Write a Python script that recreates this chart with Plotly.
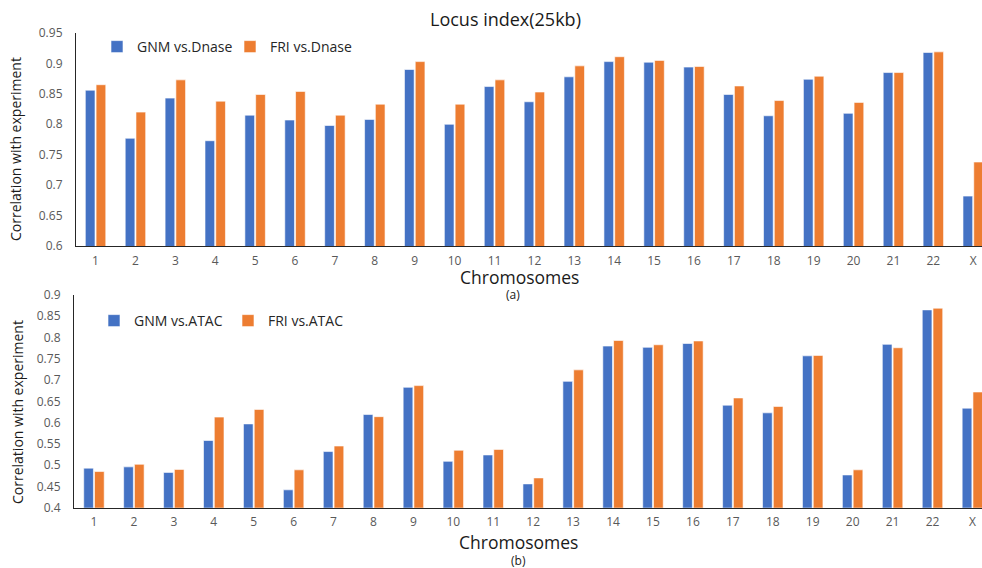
import plotly.graph_objects as go

chromosomes = [str(i) for i in range(1, 23)] + ["X"]

gnm_dnase = [0.856, 0.777, 0.843, 0.773, 0.815, 0.807, 0.798, 0.808, 0.890, 0.800, 0.862, 0.837,
             0.878, 0.903, 0.902, 0.894, 0.849, 0.814, 0.874, 0.818, 0.885, 0.918, 0.682]
fri_dnase = [0.865, 0.820, 0.873, 0.838, 0.849, 0.854, 0.815, 0.833, 0.903, 0.833, 0.873, 0.853,
             0.896, 0.911, 0.905, 0.895, 0.863, 0.839, 0.879, 0.836, 0.885, 0.919, 0.738]

gnm_atac = [0.493, 0.496, 0.483, 0.558, 0.597, 0.442, 0.532, 0.619, 0.683, 0.509, 0.524, 0.456,
            0.697, 0.780, 0.777, 0.786, 0.641, 0.623, 0.757, 0.477, 0.784, 0.865, 0.634]
fri_atac = [0.485, 0.502, 0.490, 0.613, 0.631, 0.489, 0.545, 0.614, 0.687, 0.535, 0.537, 0.470,
            0.724, 0.793, 0.783, 0.792, 0.658, 0.638, 0.758, 0.489, 0.776, 0.869, 0.672]

BLUE = "#4472C4"
ORANGE = "#ED7D31"
FONT = "Open Sans"
TICK_GRAY = "#595959"

fig = go.Figure()

bar_line = dict(color="white", width=0.6)
fig.add_trace(go.Bar(x=chromosomes, y=gnm_dnase, name="GNM vs.Dnase", marker=dict(color=BLUE, line=bar_line),
                     xaxis="x", yaxis="y", legend="legend"))
fig.add_trace(go.Bar(x=chromosomes, y=fri_dnase, name="FRI vs.Dnase", marker=dict(color=ORANGE, line=bar_line),
                     xaxis="x", yaxis="y", legend="legend"))
fig.add_trace(go.Bar(x=chromosomes, y=gnm_atac, name="GNM vs.ATAC", marker=dict(color=BLUE, line=bar_line),
                     xaxis="x2", yaxis="y2", legend="legend2"))
fig.add_trace(go.Bar(x=chromosomes, y=fri_atac, name="FRI vs.ATAC", marker=dict(color=ORANGE, line=bar_line),
                     xaxis="x2", yaxis="y2", legend="legend2"))

W, H = 982, 568

def px(x):
    return x / W

def py(y):
    return 1 - y / H

axis_common = dict(showgrid=False, zeroline=False, showline=True, linecolor="#262626", linewidth=1.2,
                   tickfont=dict(family=FONT, size=12, color=TICK_GRAY), ticks="", automargin=False)

fig.update_layout(
    template="none",
    width=W, height=H,
    margin=dict(l=0, r=0, t=0, b=0, pad=0),
    paper_bgcolor="white", plot_bgcolor="white",
    font=dict(family=FONT, color="#262626"),
    barmode="group", bargap=0.46, bargroupgap=0.1,
    xaxis=dict(domain=[px(76), 1], anchor="y", type="category", range=[-0.49, 22.22],
               ticklabelstandoff=3, **axis_common),
    yaxis=dict(domain=[py(246), py(33)], anchor="x", range=[0.6, 0.95], dtick=0.05,
               ticklabelstandoff=10, **axis_common),
    xaxis2=dict(domain=[px(74), 1], anchor="y2", type="category", range=[-0.5, 22.24],
                ticklabelstandoff=3, **axis_common),
    yaxis2=dict(domain=[py(507.7), py(295)], anchor="x2", range=[0.4, 0.9], dtick=0.05,
                ticklabelstandoff=10, **axis_common),
    legend=dict(orientation="h", x=px(97), y=py(47), xanchor="left", yanchor="middle",
                font=dict(family=FONT, size=14, color="#262626"), bgcolor="rgba(0,0,0,0)",
                entrywidth=88, entrywidthmode="pixels", itemwidth=30),
    legend2=dict(orientation="h", x=px(94), y=py(321), xanchor="left", yanchor="middle",
                 font=dict(family=FONT, size=14, color="#262626"), bgcolor="rgba(0,0,0,0)",
                 entrywidth=89, entrywidthmode="pixels", itemwidth=30),
    showlegend=True,
)

annotations = [
    dict(text="Locus index(25kb)", x=px(506), y=py(19), font=dict(size=18)),
    dict(text="Chromosomes", x=px(519), y=py(277), font=dict(size=17.5)),
    dict(text="(a)", x=px(513), y=py(294), font=dict(size=12)),
    dict(text="Chromosomes", x=px(518), y=py(542), font=dict(size=17.5)),
    dict(text="(b)", x=px(518), y=py(560), font=dict(size=12)),
    dict(text="Correlation with experiment", x=px(16), y=py(149), textangle=-90, font=dict(size=14)),
    dict(text="Correlation with experiment", x=px(17), y=py(412), textangle=-90, font=dict(size=14)),
]
for a in annotations:
    a.update(xref="paper", yref="paper", showarrow=False, xanchor="center", yanchor="middle")
    a["font"].update(family=FONT, color="#1a1a1a")
fig.update_layout(annotations=annotations)

# remove the browser's default 8px body margin so the figure fills the window exactly
fig.write_html("out.html",
               config={"displayModeBar": False},
               post_script="document.body.style.margin='0';document.body.style.overflow='hidden';")
